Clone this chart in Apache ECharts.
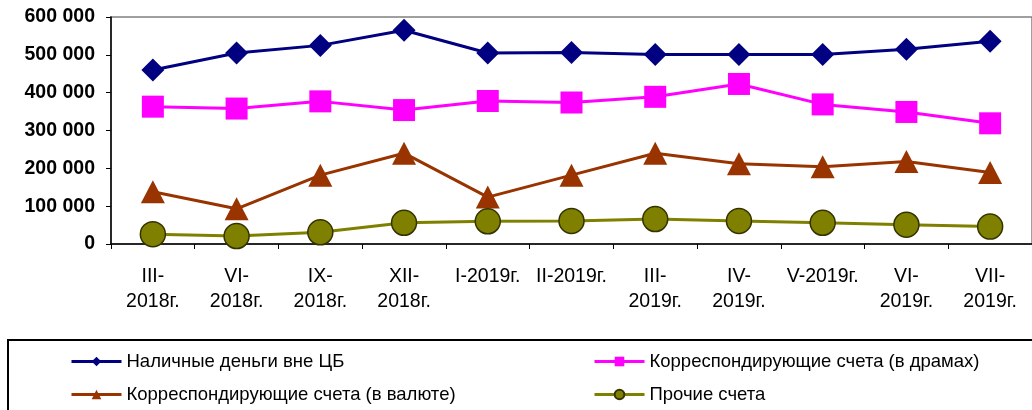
<!DOCTYPE html>
<html>
<head>
<meta charset="utf-8">
<script src="https://cdn.jsdelivr.net/npm/echarts@6/dist/echarts.min.js"></script>
<style>
  html, body { margin: 0; padding: 0; background: #fff; }
  #chart { width: 1032px; height: 410px; }
</style>
</head>
<body>
<div id="chart"></div>
<script>
const categories = ["III-\n2018г.", "VI-\n2018г.", "IX-\n2018г.", "XII-\n2018г.", "I-2019г.", "II-2019г.",
    "III-\n2019г.", "IV-\n2019г.", "V-2019г.", "VI-\n2019г.", "VII-\n2019г."];
const cash = [460000, 505000, 525000, 565000, 505000, 506000, 501000, 501000, 501000, 515000, 536000];
const corrDram = [363000, 358000, 377000, 354000, 378000, 374000, 389000, 423000, 369000, 349000, 319000];
const corrForeign = [138000, 93000, 182000, 240000, 124000, 182000, 240000, 212000, 204000, 218000, 189000];
const other = [26000, 21000, 31000, 56000, 60000, 61000, 66000, 61000, 56000, 51000, 46000];

const names = ["Наличные деньги вне ЦБ", "Корреспондирующие счета (в драмах)",
    "Корреспондирующие счета (в валюте)", "Прочие счета"];

const font = "Liberation Sans";
const chart = echarts.init(document.getElementById("chart"));

function fmt(v) {
    return String(v).replace(/\B(?=(\d{3})+(?!\d))/g, " ");
}

const legendText = { color: "#000", fontFamily: font, fontSize: 18.5 };

const option = {
    animation: false,
    grid: {
        left: 111, top: 17, width: 923, height: 227,
        show: true, borderColor: "#808080", borderWidth: 1.5
    },
    legend: [{
        left: 65, top: 347, orient: "vertical", itemGap: 14,
        itemWidth: 50, itemHeight: 12,
        data: [names[0], names[2]],
        lineStyle: { width: 3 },
        textStyle: legendText
    }, {
        left: 588, top: 347, orient: "vertical", itemGap: 14,
        itemWidth: 50, itemHeight: 12,
        data: [names[1], names[3]],
        lineStyle: { width: 3 },
        textStyle: legendText
    }],
    graphic: [{
        type: "rect",
        shape: { x: 8, y: 340, width: 1040, height: 90 },
        style: { fill: "none", stroke: "#000", lineWidth: 2 },
        silent: true
    }],
    xAxis: {
        type: "category",
        data: categories,
        boundaryGap: true,
        axisLine: { lineStyle: { color: "#000", width: 1.5 } },
        axisTick: { show: true, length: 5, lineStyle: { color: "#000" } },
        axisLabel: {
            interval: 0, margin: 20, color: "#000",
            fontFamily: font, fontSize: 19.5, lineHeight: 25
        },
        splitLine: { show: false }
    },
    yAxis: {
        type: "value",
        min: 0, max: 600000, interval: 100000,
        axisLine: { show: true, lineStyle: { color: "#000", width: 1.5 } },
        axisTick: { show: true, length: 5, lineStyle: { color: "#000" } },
        axisLabel: {
            margin: 16, color: "#000", fontFamily: font, fontSize: 19.5, fontWeight: "bold",
            formatter: fmt
        },
        splitLine: { show: false }
    },
    series: [{
        name: names[0], type: "line", data: cash,
        symbol: "diamond", symbolSize: [23, 23],
        lineStyle: { color: "#000080", width: 3 },
        itemStyle: { color: "#000080" }
    }, {
        name: names[1], type: "line", data: corrDram,
        symbol: "rect", symbolSize: 22,
        lineStyle: { color: "#ff00ff", width: 3 },
        itemStyle: { color: "#ff00ff" }
    }, {
        name: names[2], type: "line", data: corrForeign,
        symbol: "triangle", symbolSize: [24, 23],
        lineStyle: { color: "#993300", width: 3 },
        itemStyle: { color: "#993300" }
    }, {
        name: names[3], type: "line", data: other,
        symbol: "circle", symbolSize: 25,
        lineStyle: { color: "#808000", width: 3 },
        itemStyle: { color: "#808000", borderColor: "#333300", borderWidth: 1.5 }
    }]
};

chart.setOption(option);
</script>
</body>
</html>
